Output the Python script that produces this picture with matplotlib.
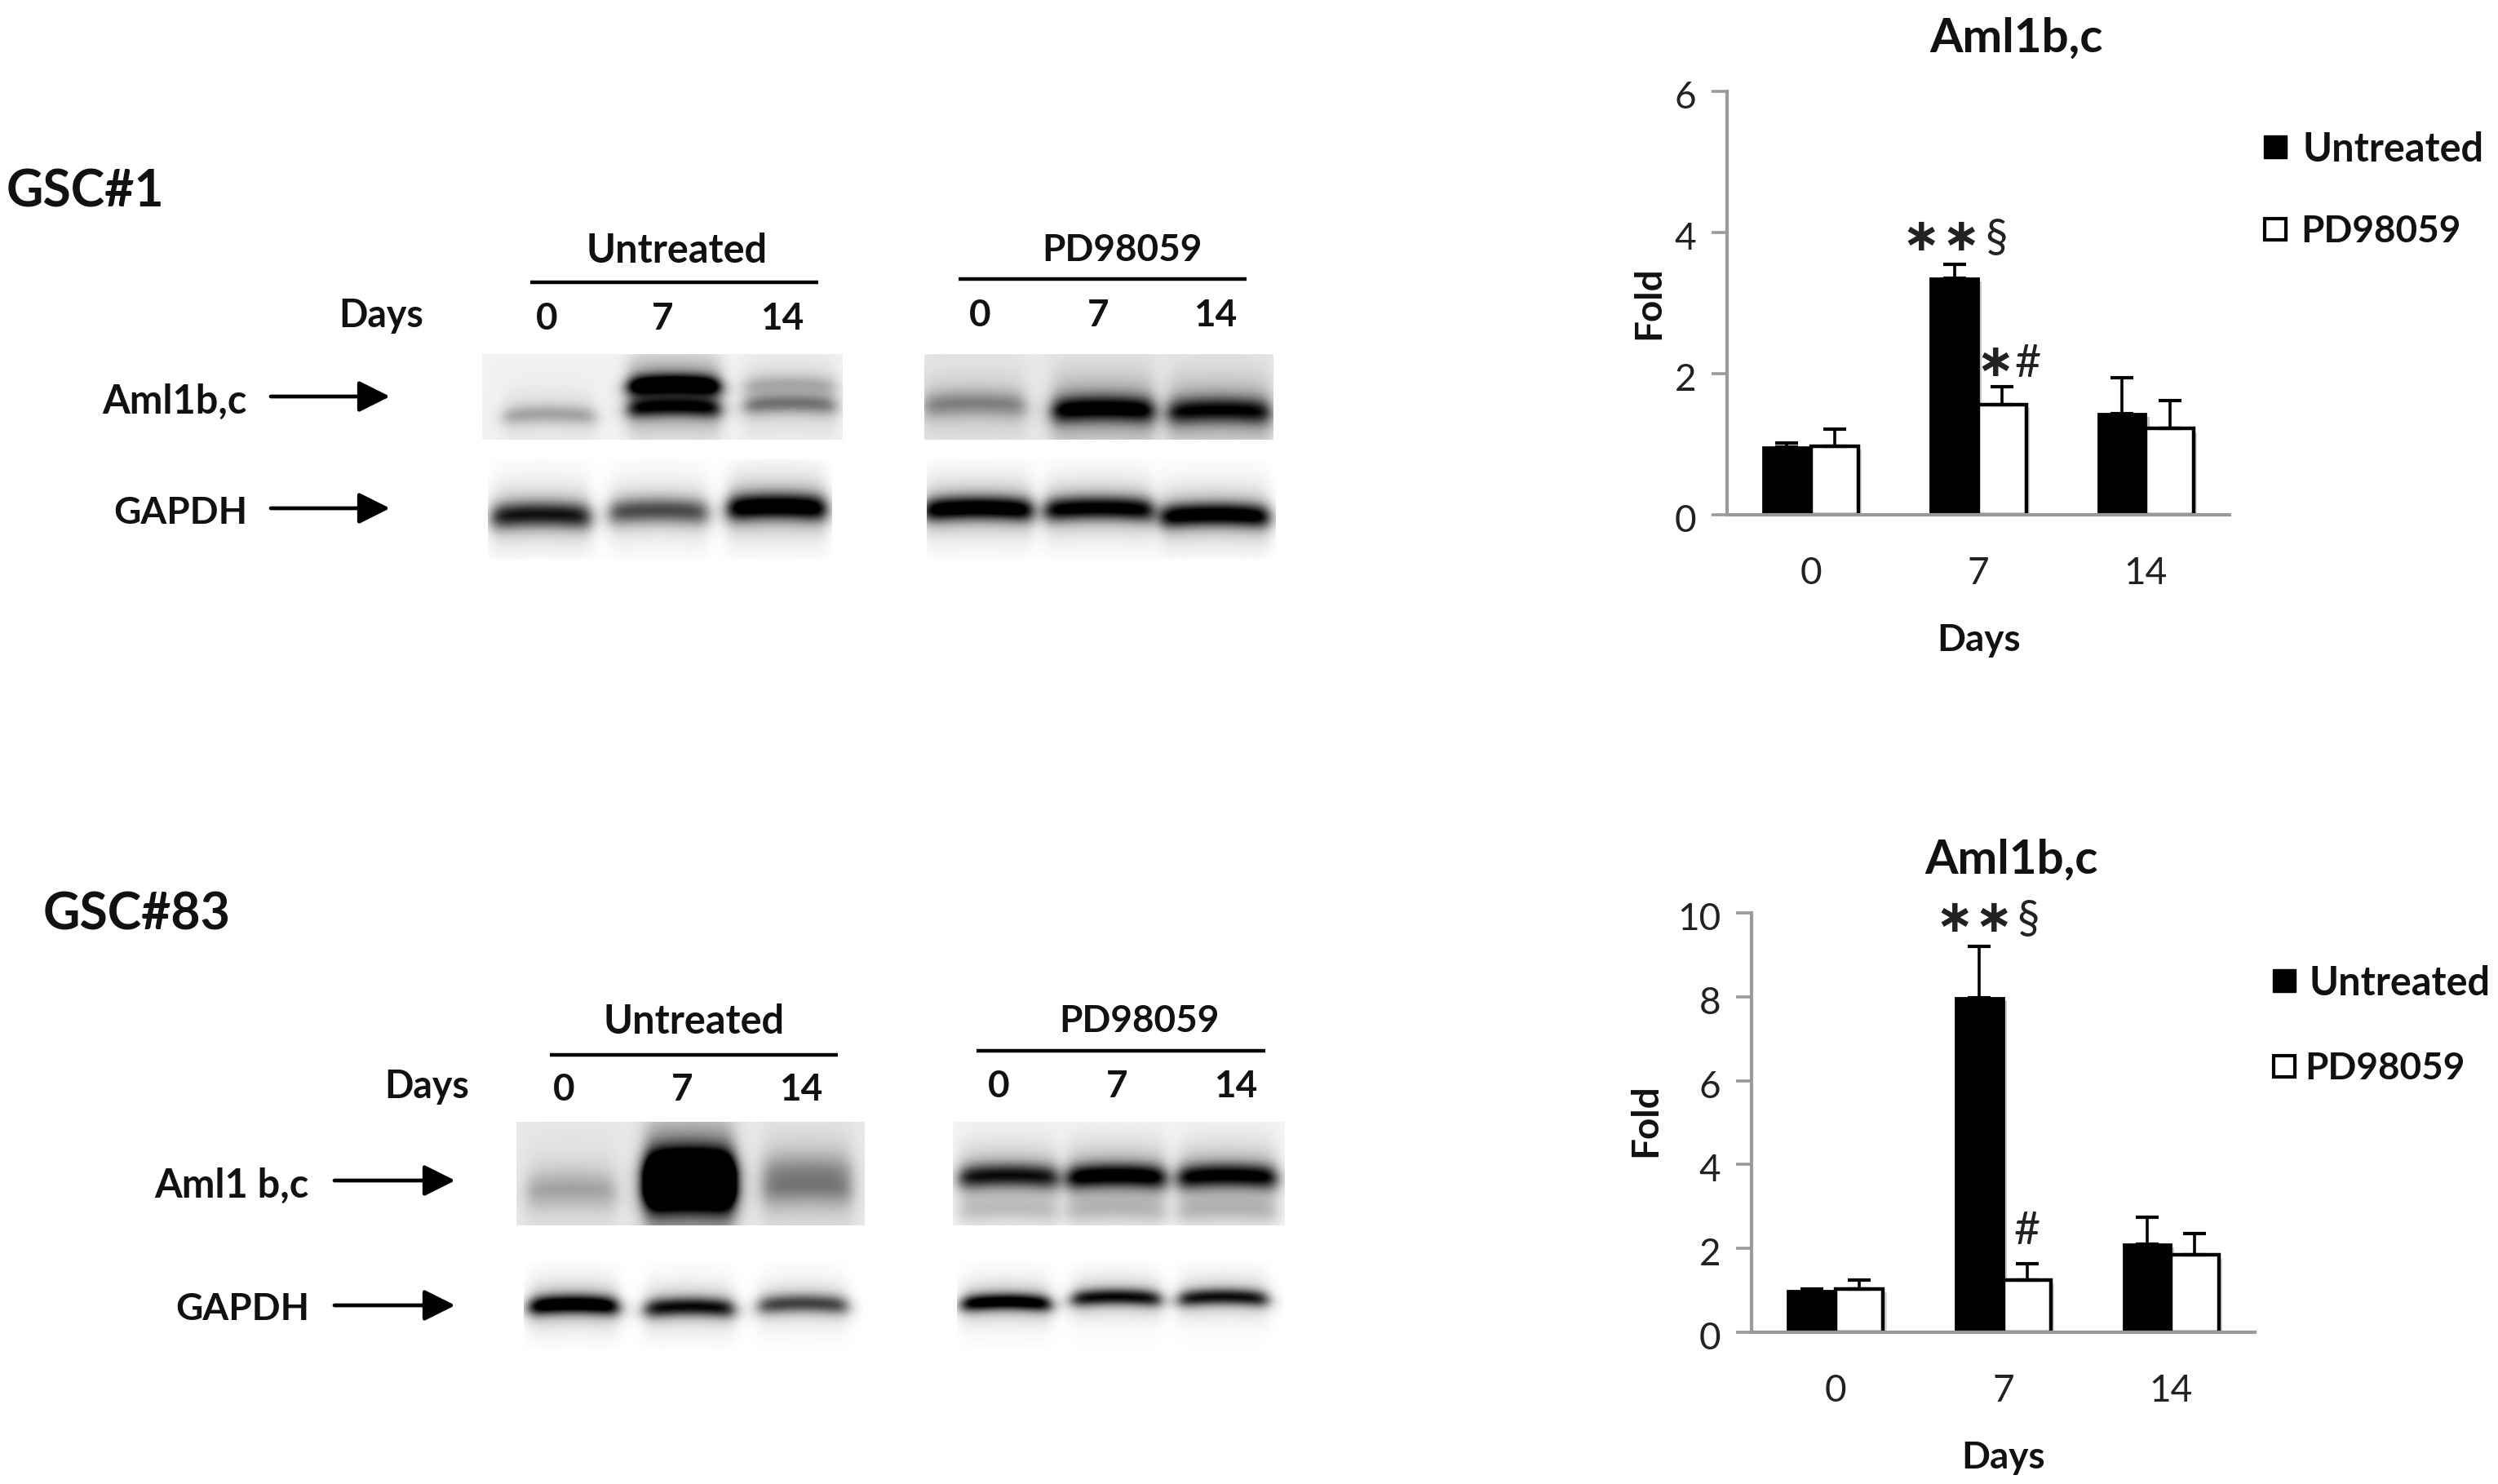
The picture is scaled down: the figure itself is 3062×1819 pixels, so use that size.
import numpy as np
import matplotlib
matplotlib.use('Agg')
import matplotlib.pyplot as plt
import matplotlib.patheffects as pe
from matplotlib.transforms import ScaledTranslation

plt.rcParams['font.family'] = ['Lato', 'DejaVu Sans']

W, H = 3062, 1819
TEXT_DY = 4

days = ['0', '7', '14']
series_names = ['Untreated', 'PD98059']

# top chart
fold_untreated_1 = [0.96, 3.35, 1.43]
err_untreated_1 = [0.06, 0.20, 0.51]
fold_pd_1 = [0.97, 1.56, 1.22]
err_pd_1 = [0.24, 0.25, 0.40]
yticks_1 = [0, 2, 4, 6]

# bottom chart
fold_untreated_2 = [1.00, 7.98, 2.10]
err_untreated_2 = [0.03, 1.22, 0.65]
fold_pd_2 = [1.03, 1.25, 1.84]
err_pd_2 = [0.22, 0.38, 0.51]
yticks_2 = [0, 2, 4, 6, 8, 10]

# band darkness per lane (0, 7, 14 days), one list per band row
aml_untreated_1 = [[0.0, 0.80, 0.14], [0.20, 0.55, 0.30]]
aml_pd_1 = [[0.24, 0.62, 0.55]]
gapdh_untreated_1 = [0.66, 0.50, 0.85]
gapdh_pd_1 = [0.85, 0.78, 0.82]
aml_untreated_2 = [[0.0, 0.95, 0.13], [0.16, 0.95, 0.20]]
aml_pd_2 = [[0.60, 0.72, 0.68], [0.10, 0.11, 0.12]]
gapdh_untreated_2 = [0.90, 0.72, 0.55]
gapdh_pd_2 = [0.85, 0.72, 0.70]


def px_axes(fig, x0, y0, x1, y1):
    return fig.add_axes([x0 / W, 1 - y1 / H, (x1 - x0) / W, (y1 - y0) / H])


# 一条带
def lane_image(xx, yy, lane_x, half_w, band_y, dark, sigma, smear):
    u = (xx - lane_x) / half_w
    across = 0.5 * (np.tanh((xx - lane_x + half_w) / 11) - np.tanh((xx - lane_x - half_w) / 11))
    y_curve = band_y + 3.5 * u ** 2
    along = np.exp(-((yy - y_curve) / sigma) ** 2 / 2)
    halo = 0.28 * np.exp(-((yy - y_curve) / (2.3 * sigma)) ** 2 / 2)
    tail = np.exp(-np.abs(yy - y_curve) / 30) * smear
    return dark * across * (along + halo + tail)


def draw_blot(ax, box, lanes, half_w, band_rows, band_ys, sigma, bg=0.0, smear=0.12):
    x0, x1, y0, y1 = box
    xx, yy = np.meshgrid(np.arange(x0, x1), np.arange(y0, y1))
    dark = np.full(xx.shape, float(bg))
    for row, band_y in zip(band_rows, band_ys):
        for i, lane_x in enumerate(lanes):
            by = band_y[i] if isinstance(band_y, list) else band_y
            dark += lane_image(xx, yy, lane_x, half_w, by, row[i], sigma, smear)
    ax.imshow(1 - np.clip(dark, 0, 1), cmap='gray', vmin=0, vmax=1, extent=[x0, x1, y1, y0],
              aspect='auto', interpolation='bilinear')


def draw_arrow(ax, x0, x1, y):
    ax.annotate('', xy=(x1, y), xytext=(x0, y),
                arrowprops=dict(arrowstyle='-|>,head_length=0.9,head_width=0.45', color='k', lw=3.4,
                                shrinkA=0, shrinkB=0, mutation_scale=26))


# 左边的印迹和文字
def draw_west(ax):
    bold = dict(fontweight='bold', color='#111111', va='center')
    ax.text(8, 232 + TEXT_DY, 'GSC#1', fontsize=45, ha='left', **bold)
    ax.text(53, 1117 + TEXT_DY, 'GSC#83', fontsize=45, ha='left', **bold)

    rows = [
        dict(head_x=830, pd_x=1375, head_y=303, l1=(650, 1003, 346), l2=(1175, 1528, 342),
             days_x=467, days_y=383, u_x=(670, 812, 959), u_y=387, p_x=(1201, 1346, 1490), p_y=383,
             aml='Aml1b,c', aml_y=488, g_y=625, right=303, ax0=332, ax1=478, a1=486, a2=623),
        dict(head_x=851, pd_x=1396, head_y=1248, l1=(674, 1027, 1293), l2=(1197, 1551, 1288),
             days_x=523, days_y=1328, u_x=(691, 836, 982), u_y=1332, p_x=(1224, 1369, 1515), p_y=1328,
             aml='Aml1 b,c', aml_y=1449, g_y=1601, right=379, ax0=410, ax1=558, a1=1447, a2=1600),
    ]
    for r in rows:
        ax.text(r['head_x'], r['head_y'] + TEXT_DY, series_names[0], fontsize=35, ha='center', **bold)
        ax.text(r['pd_x'], r['head_y'] + TEXT_DY, series_names[1], fontsize=33, ha='center', **bold)
        ax.plot(r['l1'][:2], [r['l1'][2]] * 2, color='k', lw=3.2, solid_capstyle='butt')
        ax.plot(r['l2'][:2], [r['l2'][2]] * 2, color='k', lw=3.2, solid_capstyle='butt')
        ax.text(r['days_x'], r['days_y'] + TEXT_DY, 'Days', fontsize=33.5, ha='center', **bold)
        for x, d in zip(r['u_x'], days):
            ax.text(x, r['u_y'] + TEXT_DY, d, fontsize=33, ha='center', **bold)
        for x, d in zip(r['p_x'], days):
            ax.text(x, r['p_y'] + TEXT_DY, d, fontsize=33, ha='center', **bold)
        ax.text(r['right'], r['aml_y'] + TEXT_DY, r['aml'], fontsize=35, ha='right', **bold)
        ax.text(r['right'], r['g_y'] + TEXT_DY, 'GAPDH', fontsize=33, ha='right', **bold)
        draw_arrow(ax, r['ax0'], r['ax1'], r['a1'])
        draw_arrow(ax, r['ax0'], r['ax1'], r['a2'])

    # 第一排
    draw_blot(ax, (591, 1033, 434, 539), (673, 826, 968), 56, aml_untreated_1, [470, [507, 498, 494]], 8, bg=0.05, smear=0.3)
    draw_blot(ax, (1133, 1561, 434, 539), (1194, 1352, 1494), 62, aml_pd_1, [[494, 500, 502]], 11, bg=0.09, smear=0.45)
    draw_blot(ax, (598, 1020, 563, 685), (663, 807, 952), 60, [gapdh_untreated_1], [[630, 625, 620]], 11, smear=0.14)
    draw_blot(ax, (1136, 1564, 563, 685), (1199, 1347, 1489), 66, [gapdh_pd_1], [[622, 622, 630]], 10, smear=0.12)
    # 第二排
    draw_blot(ax, (633, 1060, 1375, 1502), (700, 845, 989), 54, aml_untreated_2, [1432, [1457, 1458, 1455]], 16, bg=0.09, smear=0.45)
    draw_blot(ax, (1168, 1575, 1375, 1502), (1236, 1368, 1504), 60, aml_pd_2, [1440, 1482], 10, bg=0.04, smear=0.25)
    draw_blot(ax, (642, 1057, 1547, 1654), (703, 845, 984), 54, [gapdh_untreated_2], [[1598, 1601, 1597]], 8, smear=0.08)
    draw_blot(ax, (1173, 1573, 1547, 1654), (1233, 1368, 1499), 54, [gapdh_pd_2], [[1595, 1589, 1589]], 7, smear=0.08)

    ax.set_xlim(0, W)
    ax.set_ylim(H, 0)
    ax.set_axis_off()


# 柱状图
def draw_bars(ax, black, black_err, white, white_err, ticks):
    x = np.arange(len(days)) + 0.5
    width = 0.285
    shadow = [pe.SimplePatchShadow(offset=(3, -3), alpha=0.22), pe.Normal()]
    b1 = ax.bar(x - width / 2, black, width, color='k', edgecolor='k', linewidth=2)
    b2 = ax.bar(x + width / 2, white, width, color='w', edgecolor='k', linewidth=3.2)
    for b in list(b1) + list(b2):
        b.set_path_effects(shadow)
    ax.errorbar(x - width / 2, black, yerr=[np.zeros(3), black_err], fmt='none', ecolor='k',
                elinewidth=2.6, capsize=10, capthick=3)
    ax.errorbar(x + width / 2, white, yerr=[np.zeros(3), white_err], fmt='none', ecolor='k',
                elinewidth=2.6, capsize=10, capthick=3)
    ax.set_xlim(0, 3)
    ax.set_ylim(0, ticks[-1])
    ax.set_xticks(x)
    ax.set_xticklabels(days, fontsize=33, color='#222222')
    ax.set_yticks(ticks)
    ax.tick_params(axis='y', labelsize=33, length=14, width=2.6, color='#9a9a9a', labelcolor='#222222', pad=13)
    ax.tick_params(axis='x', length=0, pad=37)
    down = ScaledTranslation(0, -4 / 100, ax.figure.dpi_scale_trans)
    for lbl in ax.get_yticklabels():
        lbl.set_transform(lbl.get_transform() + down)
    for s in ['top', 'right']:
        ax.spines[s].set_visible(False)
    for s in ['left', 'bottom']:
        ax.spines[s].set_color('#9a9a9a')
        ax.spines[s].set_linewidth(3)
    ax.patch.set_alpha(0)


def draw_legend(ax, x_box, y1, y2, x_text, x_text2):
    ax.plot([x_box], [y1], 's', color='k', markersize=20)
    ax.plot([x_box], [y2], 's', markerfacecolor='w', markeredgecolor='k', markeredgewidth=3, markersize=19)
    ax.text(x_text, y1 + 3, series_names[0], fontsize=35, fontweight='bold', color='#111111', va='center')
    ax.text(x_text2, y2 + 3, series_names[1], fontsize=33, fontweight='bold', color='#111111', va='center')


if __name__ == '__main__':
    fig = plt.figure(figsize=(W / 100, H / 100), dpi=100, facecolor='w')
    west = px_axes(fig, 0, 0, W, H)
    draw_west(west)

    top = px_axes(fig, 2117, 112, 2733, 631)
    draw_bars(top, fold_untreated_1, err_untreated_1, fold_pd_1, err_pd_1, yticks_1)
    bottom = px_axes(fig, 2147, 1119, 2764, 1633)
    draw_bars(bottom, fold_untreated_2, err_untreated_2, fold_pd_2, err_pd_2, yticks_2)

    label = dict(fontweight='bold', color='#111111', va='center', ha='center')
    west.text(2472, 43 + TEXT_DY, 'Aml1b,c', fontsize=42, **label)
    west.text(2466, 1050 + TEXT_DY, 'Aml1b,c', fontsize=42, **label)
    west.text(2426, 781 + TEXT_DY, 'Days', fontsize=33, **label)
    west.text(2456, 1783 + TEXT_DY, 'Days', fontsize=33, **label)
    west.text(2021, 371, 'Fold', fontsize=33, rotation=90, **label)
    west.text(2017, 1373, 'Fold', fontsize=33, rotation=90, **label)

    draw_legend(west, 2789, 180, 281, 2822, 2820)
    draw_legend(west, 2800, 1202, 1307, 2831, 2825)

    # 显著性标记
    sign = dict(va='center', ha='center', color='#222222')
    star_font = dict(family=['DejaVu Sans'], fontsize=40, fontweight='bold')
    west.text(2355, 292, '\u2217', **star_font, **sign)
    west.text(2404, 292, '\u2217', **star_font, **sign)
    west.text(2447, 292, '\u00a7', fontsize=40, **sign)
    west.text(2446, 446, '\u2217', **star_font, **sign)
    west.text(2486, 446, '#', fontsize=40, **sign)
    west.text(2396, 1127, '\u2217', **star_font, **sign)
    west.text(2444, 1127, '\u2217', **star_font, **sign)
    west.text(2486, 1127, '\u00a7', fontsize=40, **sign)
    west.text(2485, 1509, '#', fontsize=40, **sign)

    fig.savefig('out.png', dpi=100, facecolor='w')
